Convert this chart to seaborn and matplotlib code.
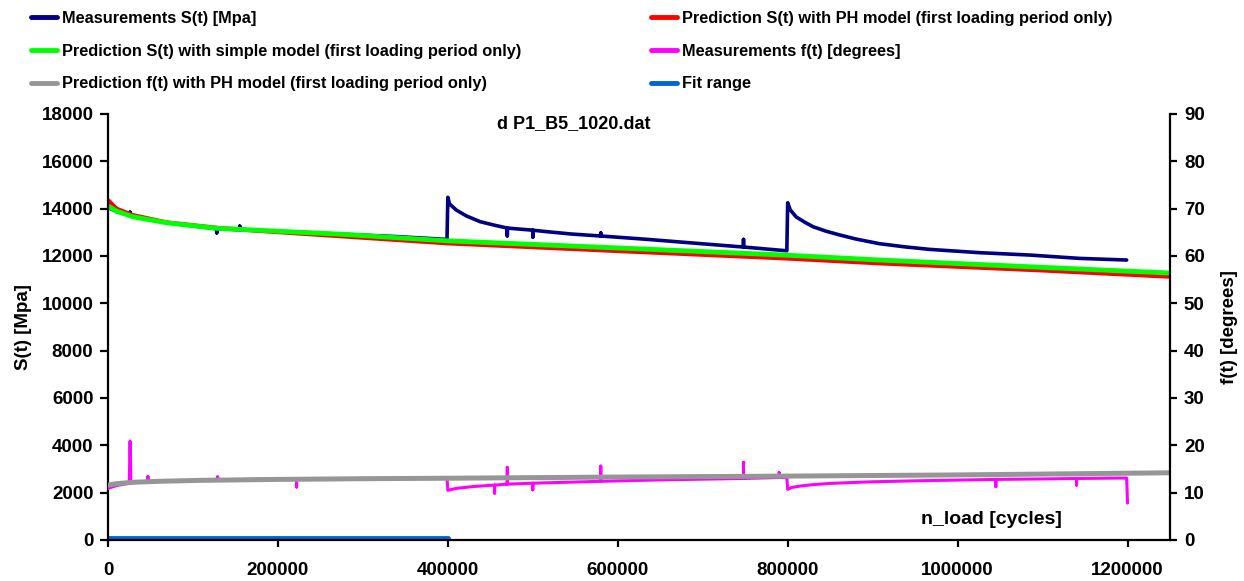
import matplotlib
matplotlib.use('Agg')
import matplotlib.pyplot as plt
import seaborn as sns
from matplotlib.lines import Line2D

# ---- data ----
# S(t) measurements [Mpa]
meas_s_n = [0, 10000, 26000, 26000, 26000, 70000, 128000, 128000, 128000, 155000, 155000, 155000,
            200000, 276000, 340000, 399000, 400000, 402000, 410000, 422000, 438000, 455000,
            470000, 470000, 470000, 500000, 500000, 500000, 516000, 545000, 580000, 580000, 580000,
            634000, 693000, 744000, 748000, 748000, 748000, 770000, 799000,
            800000, 803000, 810000, 820000, 830000, 845000, 860000, 880000, 908000, 937000,
            967000, 1026000, 1085000, 1143000, 1199000]
meas_s = [14050, 13880, 13720, 13850, 13720, 13400, 13150, 12980, 13150, 13110, 13260, 13110,
          13040, 12920, 12820, 12700, 14480, 14200, 13940, 13690, 13450, 13300,
          13180, 12850, 13180, 13090, 12800, 13090, 13030, 12930, 12845, 12970, 12845,
          12705, 12535, 12390, 12380, 12700, 12380, 12310, 12220,
          14250, 13950, 13650, 13430, 13235, 13050, 12900, 12720, 12520, 12390,
          12280, 12140, 12040, 11900, 11830]

# S(t) prediction, PH model [Mpa]
ph_s_n = [0, 10000, 29000, 69000, 128000, 187000, 276000, 400000, 600000, 796000, 908000, 1100000, 1250000]
ph_s = [14365, 14000, 13730, 13420, 13190, 13040, 12830, 12535, 12210, 11900, 11690, 11390, 11125]

# S(t) prediction, simple model [Mpa]
simple_s_n = [0, 10000, 29000, 69000, 128000, 187000, 276000, 400000, 600000, 796000, 908000, 1100000, 1250000]
simple_s = [14112, 13900, 13660, 13405, 13170, 13070, 12915, 12640, 12340, 12040, 11830, 11520, 11280]

# f(t) measurements [degrees]
meas_f_n = [0, 10000, 25000, 26000, 27000, 47000, 47000, 47000, 80000, 128000, 129000, 130000,
            200000, 222000, 222000, 222000, 300000, 399000, 400000, 410000, 430000,
            455000, 455000, 455000, 470000, 470000, 470000, 500000, 500000, 500000, 540000,
            580000, 580000, 580000, 650000, 748000, 748000, 748000, 790000, 790000, 790000,
            799000, 800000, 805000, 815000, 830000, 850000, 870000, 900000, 950000,
            1045000, 1045000, 1045000, 1100000, 1140000, 1140000, 1140000, 1199000, 1200000]
meas_f = [10.9, 11.5, 12.0, 20.9, 12.1, 12.3, 13.4, 12.3, 12.5, 12.7, 13.4, 12.7,
          12.9, 12.9, 11.2, 12.9, 13.0, 13.0, 10.5, 10.9, 11.3,
          11.6, 9.9, 11.6, 11.8, 15.3, 11.8, 12.0, 10.6, 12.0, 12.2,
          12.4, 15.6, 12.4, 12.7, 13.0, 16.4, 13.0, 13.2, 14.2, 13.2,
          13.2, 10.7, 11.1, 11.4, 11.7, 11.95, 12.1, 12.3, 12.5,
          12.8, 11.3, 12.8, 12.9, 13.0, 11.6, 13.0, 13.1, 7.8]

# f(t) prediction, PH model [degrees]
ph_f_n = [0, 10000, 30000, 60000, 108000, 200000, 300000, 400000, 600000, 800000, 1000000, 1250000]
ph_f = [11.6, 11.9, 12.2, 12.4, 12.6, 12.8, 12.95, 13.05, 13.3, 13.5, 13.75, 14.2]

# fit range
fit_n = [0, 400000]
fit_s = [80, 80]

x_ticks = [0, 200000, 400000, 600000, 800000, 1000000, 1200000]
s_ticks = list(range(0, 18001, 2000))
f_ticks = list(range(0, 91, 10))

c_navy, c_red, c_green = '#000080', '#FF0000', '#00FF00'
c_mag, c_gray, c_fit = '#FF00FF', '#969696', '#0066CC'

sns.set_style('white')
plt.rcParams['font.family'] = ['Liberation Sans', 'DejaVu Sans']
plt.rcParams['font.weight'] = 'bold'
for k in ('text.color', 'axes.labelcolor', 'xtick.color', 'ytick.color'):
    plt.rcParams[k] = 'black'

fig = plt.figure(figsize=(12.44, 5.81), dpi=100)
ax = fig.add_axes([108 / 1244, 41 / 581, 1062 / 1244, 426 / 581])
ax2 = ax.twinx()

sns.lineplot(x=meas_s_n, y=meas_s, ax=ax, color=c_navy, lw=2.6, estimator=None, sort=False)
sns.lineplot(x=ph_s_n, y=ph_s, ax=ax, color=c_red, lw=3, estimator=None, sort=False)
sns.lineplot(x=simple_s_n, y=simple_s, ax=ax, color=c_green, lw=3.5, estimator=None, sort=False)
sns.lineplot(x=fit_n, y=fit_s, ax=ax, color=c_fit, lw=3.5, estimator=None, sort=False)
sns.lineplot(x=meas_f_n, y=meas_f, ax=ax2, color=c_mag, lw=2.2, estimator=None, sort=False)
sns.lineplot(x=ph_f_n, y=ph_f, ax=ax2, color=c_gray, lw=3.6, estimator=None, sort=False)

ax.set_xlim(0, 1250000)
ax.set_ylim(0, 18000)
ax2.set_ylim(0, 90)
ax.set_xticks(x_ticks)
ax.set_xticklabels([str(v) for v in x_ticks])
ax.set_yticks(s_ticks)
ax2.set_yticks(f_ticks)

for a in (ax, ax2):
    a.grid(False)
    a.spines['top'].set_visible(False)
    for s in a.spines.values():
        s.set_linewidth(1.6)
        s.set_color('black')
ax.spines['right'].set_visible(False)
ax2.spines['left'].set_visible(False)
ax2.spines['bottom'].set_visible(False)

ax.tick_params(axis='y', direction='out', length=5.5, width=1.6, pad=5, labelsize=13.5, left=True)
ax.tick_params(axis='x', direction='out', length=5, width=1.6, pad=11, labelsize=13.5, bottom=True)
ax2.tick_params(axis='y', direction='out', length=5, width=1.6, pad=5, labelsize=13.5, right=True)
for lab in ax.get_xticklabels() + ax.get_yticklabels() + ax2.get_yticklabels():
    lab.set_fontweight('bold')

ax.set_ylabel('S(t) [Mpa]', fontsize=13.5, fontweight='bold', labelpad=7)
ax2.set_ylabel('f(t) [degrees]', fontsize=13.5, fontweight='bold', labelpad=12, rotation=90)
ax.set_xlabel('')

ax.text(0.439, 0.998, 'd P1_B5_1020.dat', transform=ax.transAxes, ha='center', va='top',
        fontsize=13, fontweight='bold')
ax.text(0.832, 0.049, 'n_load [cycles]', transform=ax.transAxes, ha='center', va='center',
        fontsize=14, fontweight='bold')

def h(c):
    return Line2D([], [], color=c, lw=3.5)

leg_kw = dict(loc='upper left', frameon=False, handlelength=1.6,
              handletextpad=0.3, labelspacing=1.08, borderpad=0, borderaxespad=0,
              prop={'weight': 'bold', 'size': 11.8})
fig.legend([h(c_navy), h(c_green), h(c_gray)],
           ['Measurements S(t) [Mpa]',
            'Prediction S(t) with simple model (first loading period only)',
            'Prediction f(t) with PH model (first loading period only)'],
           bbox_to_anchor=(31 / 1244, 1 - 11 / 581), **leg_kw)
fig.legend([h(c_red), h(c_mag), h(c_fit)],
           ['Prediction S(t) with PH model (first loading period only)',
            'Measurements f(t) [degrees]',
            'Fit range'],
           bbox_to_anchor=(651 / 1244, 1 - 11 / 581), **leg_kw)

fig.savefig('out.png', dpi=100)
